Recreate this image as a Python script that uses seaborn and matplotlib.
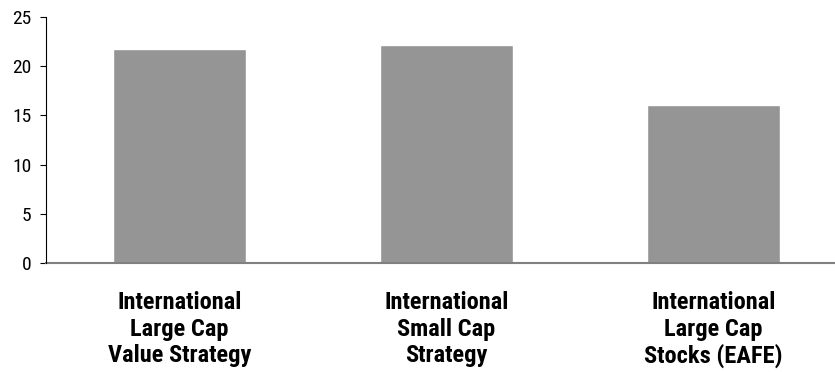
import matplotlib
matplotlib.use("Agg")
import matplotlib.pyplot as plt
import seaborn as sns
import pandas as pd

categories = ["International\nLarge Cap\nValue Strategy",
              "International\nSmall Cap\nStrategy",
              "International\nLarge Cap\nStocks (EAFE)"]
values = [21.75, 22.15, 16.05]
yticks = [0, 5, 10, 15, 20, 25]

sns.set_theme(style="white")
plt.rcParams['font.family'] = ['Roboto Condensed', 'DejaVu Sans']
plt.rcParams['font.stretch'] = 'condensed'

df = pd.DataFrame({"cat": categories, "val": values})

fig = plt.figure(figsize=(8.35, 3.72), dpi=100)
ax = fig.add_axes([46/835, (372-263)/372, 1 - 46/835, 246/372])
sns.barplot(data=df, x="cat", y="val", color="#959595", saturation=1,
            width=0.5, ax=ax)
ax.set_xlim(-0.5, (835-179.5)/267)
ax.set_ylim(0, 25)
ax.set_yticks(yticks)
ax.set_yticklabels([str(t) for t in yticks], fontsize=14, color="black")
ax.set_xlabel("")
ax.set_ylabel("")
for lbl in ax.get_xticklabels():
    lbl.set_fontweight("bold")
    lbl.set_fontsize(17.6)
    lbl.set_linespacing(1.17)
    lbl.set_color("black")
ax.tick_params(axis="x", length=0, pad=20.5)
ax.tick_params(axis="y", length=4.3, width=0.8, color="black", pad=6, left=True)
for s in ["top", "right"]:
    ax.spines[s].set_visible(False)
ax.spines["left"].set_color("black")
ax.spines["left"].set_linewidth(0.8)
ax.spines["bottom"].set_color("#808080")
ax.spines["bottom"].set_linewidth(1.5)
ax.spines["left"].set_zorder(3)
fig.savefig("out.png", dpi=100)
